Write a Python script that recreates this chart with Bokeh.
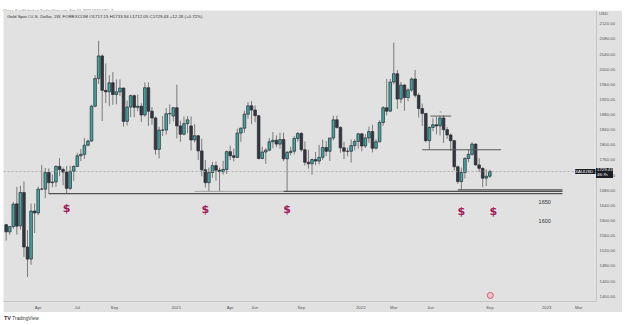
import pandas as pd
from bokeh.plotting import figure
from bokeh.models import ColumnDataSource, FixedTicker, Range1d, Label, Div, Span, PrintfTickFormatter
from bokeh.layouts import column
from bokeh.embed import file_html
from bokeh.resources import INLINE
from bokeh.core.properties import value

# ---------------- data (weekly XAUUSD candles) ----------------
first_week = "2020-02-03"
opens = [
    1589, 1570, 1584, 1644, 1586, 1674, 1530, 1498, 1625, 1620, 1683, 1683,
    1727, 1700, 1702, 1743, 1735, 1728, 1685, 1730, 1743, 1771, 1775, 1799,
    1810, 1902, 1975, 2035, 1944, 1940, 1964, 1933, 1940, 1950, 1862, 1900,
    1930, 1899, 1902, 1879, 1951, 1889, 1871, 1788, 1839, 1839, 1882, 1876,
    1898, 1850, 1828, 1856, 1850, 1813, 1824, 1784, 1734, 1700, 1727, 1745,
    1733, 1729, 1735, 1782, 1771, 1767, 1831, 1844, 1881, 1903, 1892, 1877,
    1764, 1781, 1786, 1808, 1812, 1802, 1814, 1763, 1780, 1783, 1817, 1830,
    1787, 1754, 1750, 1761, 1757, 1767, 1793, 1783, 1818, 1866, 1846, 1792,
    1783, 1783, 1798, 1809,
    1829, 1797, 1818, 1835, 1791, 1808, 1859, 1898, 1889, 1966, 1988, 1921,
    1958, 1925, 1945, 1974, 1931, 1896, 1883, 1811, 1846, 1853, 1850, 1871,
    1840, 1826, 1811, 1742, 1703, 1727, 1764, 1775, 1802, 1747, 1738, 1712,
    1717.15,
]
highs = [
    1591, 1585, 1649, 1689, 1692, 1703, 1575, 1645, 1645, 1690, 1747, 1739,
    1738, 1722, 1746, 1765, 1740, 1744, 1745, 1746, 1779, 1789, 1818, 1814,
    1906, 1984, 2075, 2039, 2015, 1984, 1992, 1973, 1973, 1951, 1917, 1933,
    1933, 1933, 1910, 1965, 1965, 1900, 1875, 1848, 1876, 1897, 1907, 1900,
    1959, 1864, 1875, 1876, 1875, 1855, 1826, 1816, 1760, 1740, 1755, 1756,
    1740, 1758, 1785, 1798, 1790, 1843, 1846, 1890, 1913, 1916, 1904, 1879,
    1795, 1791, 1818, 1834, 1825, 1832, 1832, 1784, 1795, 1823, 1834, 1834,
    1809, 1787, 1764, 1781, 1800, 1814, 1810, 1818, 1877, 1877, 1849, 1808,
    1793, 1814, 1815, 1831,
    1831, 1828, 1848, 1853, 1815, 1865, 1902, 1974, 1974, 2070, 1998, 1966,
    1960, 1949, 1978, 1998, 1937, 1909, 1884, 1849, 1870, 1874, 1876, 1879,
    1847, 1830, 1813, 1745, 1740, 1767, 1788, 1807, 1803, 1765, 1740, 1735,
    1733.94,
]
lows = [
    1547, 1562, 1578, 1563, 1576, 1504, 1451, 1483, 1567, 1614, 1680, 1659,
    1670, 1688, 1689, 1717, 1693, 1670, 1680, 1705, 1741, 1757, 1763, 1796,
    1808, 1899, 1961, 1863, 1910, 1902, 1906, 1907, 1929, 1848, 1851, 1873,
    1873, 1889, 1860, 1874, 1850, 1853, 1774, 1764, 1823, 1827, 1855, 1862,
    1817, 1808, 1825, 1831, 1785, 1806, 1760, 1717, 1687, 1677, 1713, 1705,
    1677, 1721, 1723, 1760, 1756, 1765, 1808, 1832, 1869, 1855, 1860, 1761,
    1762, 1750, 1783, 1791, 1794, 1790, 1757, 1678, 1772, 1775, 1808, 1782,
    1745, 1737, 1721, 1746, 1748, 1760, 1770, 1758, 1812, 1843, 1779, 1762,
    1770, 1753, 1785, 1790,
    1783, 1792, 1805, 1780, 1788, 1807, 1850, 1878, 1889, 1960, 1895, 1910,
    1890, 1915, 1940, 1925, 1872, 1850, 1807, 1787, 1836, 1828, 1825, 1805,
    1816, 1784, 1732, 1697, 1680, 1711, 1754, 1771, 1745, 1728, 1688, 1691,
    1712.05,
]
closes = [
    1570, 1584, 1643, 1585, 1674, 1530, 1498, 1625, 1620, 1683, 1683, 1727,
    1700, 1702, 1743, 1735, 1728, 1685, 1730, 1743, 1771, 1775, 1799, 1810,
    1902, 1975, 2035, 1944, 1940, 1964, 1933, 1940, 1950, 1862, 1900, 1930,
    1899, 1902, 1879, 1951, 1889, 1871, 1788, 1839, 1839, 1882, 1883, 1898,
    1850, 1828, 1856, 1866, 1813, 1824, 1784, 1734, 1700, 1727, 1745, 1733,
    1729, 1735, 1782, 1771, 1767, 1831, 1844, 1881, 1903, 1892, 1877, 1764,
    1781, 1786, 1808, 1812, 1802, 1814, 1763, 1780, 1783, 1817, 1830, 1787,
    1754, 1750, 1761, 1757, 1767, 1793, 1783, 1818, 1866, 1846, 1792, 1783,
    1783, 1798, 1809, 1829,
    1797, 1818, 1835, 1791, 1808, 1859, 1898, 1889, 1966, 1988, 1921, 1958,
    1925, 1945, 1974, 1931, 1896, 1883, 1811, 1846, 1853, 1850, 1871, 1840,
    1826, 1811, 1742, 1703, 1727, 1764, 1775, 1802, 1747, 1738, 1712, 1717,
    1729.43,
]
last_price = 1729.43

# time-scale labels, placed where they appear in the picture
tick_dates = ["2020-04-06", "2020-06-22", "2020-09-03", "2021-01-03", "2021-04-19",
              "2021-06-06", "2021-09-06", "2022-01-01", "2022-03-07", "2022-05-18",
              "2022-09-12", "2023-01-02", "2023-03-06"]
tick_labels = ["Apr", "Jul", "Sep", "2021", "Apr", "Jun", "Sep", "2022", "Mar",
               "Jun", "Sep", "2023", "Mar"]
price_ticks = [1400, 1440, 1480, 1520, 1560, 1600, 1640, 1680, 1720, 1760, 1800,
               1840, 1880, 1920, 1960, 2000, 2040, 2080, 2120]

# drawn support lines
support_price = [1671, 1677, 1681]
support_start = ["2020-04-27", "2021-08-02", "2022-07-11"]
support_end = ["2023-02-02", "2023-02-02", "2023-02-02"]
faint_price = [1677]
faint_start = ["2021-02-08"]
faint_end = ["2021-08-02"]
range_price = [1787, 1876]
range_start = ["2022-05-02", "2022-05-18"]
range_end = ["2022-10-04", "2022-06-28"]
mark_date = ["2022-06-07"]
mark_price = [1889]
mark_text = ["x"]

dollar_dates = ["2020-06-01", "2021-03-01", "2021-08-09", "2022-07-18", "2022-09-19"]
dollar_price = [1631, 1629, 1629, 1624, 1624]
level_text_date = ["2022-12-17", "2022-12-17"]
level_text_price = [1650, 1600]
level_text = ["1650", "1600"]
icon_date = ["2022-09-13"]
icon_price = [1402]

header_text = "Gold Spot / U.S. Dollar, 1W, FOREXCOM  O1717.15 H1733.94 L1712.05 C1729.43 +12.28 (+0.72%)"
publish_text = "Chriss_K published on TradingView.com, Sep 12, 2022 17:51 UTC+3"
price_tag = ["1729.43", "46:7h"]


def ms(d):
    return int(pd.Timestamp(d).value // 10**6)


week_dates = pd.date_range(first_week, periods=len(closes), freq="7D")
xs = [ms(d) for d in week_dates]

BG = "#e1e1e1"
UP = "#3fa8a3"
DOWN = "#33373f"
FONT = "Liberation Sans"

src = ColumnDataSource(dict(
    x=xs,
    high=highs,
    low=lows,
    top=[max(o, c) for o, c in zip(opens, closes)],
    bottom=[min(o, c) for o, c in zip(opens, closes)],
    fill=[UP if c >= o else DOWN for o, c in zip(opens, closes)],
))

p = figure(width=619, height=302,
           x_range=Range1d(ms("2020-01-28 18:00"), ms("2023-04-10")),
           y_range=Range1d(1386, 2155),
           y_axis_location="right",
           output_backend="svg", toolbar_location=None,
           min_border_left=0, min_border_right=26, min_border_top=0, min_border_bottom=11,
           background_fill_color=BG, border_fill_color=BG, outline_line_color=None,
           margin=(0, 3, 0, 3))
p.xgrid.visible = False
p.ygrid.visible = False

# current price dotted line
p.add_layout(Span(location=last_price, dimension="width", line_color="#a2a2a2",
                  line_dash="2 2", line_width=0.8))

# candles
p.segment("x", "high", "x", "low", source=src, line_color="#7a7a7a", line_width=1)
p.vbar(x="x", width=5.2 * 86400000, top="top", bottom="bottom", fill_color="fill",
       line_color="#262a31", line_width=0.7, source=src)

# drawings
p.segment(x0=[ms(d) for d in faint_start], y0=faint_price, x1=[ms(d) for d in faint_end],
          y1=faint_price, line_color="#a3a3a3", line_width=1)
p.segment(x0=[ms(d) for d in support_start], y0=support_price, x1=[ms(d) for d in support_end],
          y1=support_price, line_color="#4f4f4f", line_width=1.4)
p.segment(x0=[ms(d) for d in range_start], y0=range_price, x1=[ms(d) for d in range_end],
          y1=range_price, line_color="#5a5a5a", line_width=1)
p.text(x=[ms(d) for d in mark_date], y=mark_price, text=mark_text, text_font=value(FONT),
       text_font_size="4px", text_color="#8a8a8a", text_align="center", text_baseline="middle")
p.text(x=[ms(d) for d in dollar_dates], y=dollar_price, text=["$"] * len(dollar_dates),
       text_font=value("DejaVu Sans"), text_font_style="bold", text_font_size="11px",
       text_color="#a11a5b", text_align="center", text_baseline="middle")
p.text(x=[ms(d) for d in level_text_date], y=level_text_price, text=level_text,
       text_font=value(FONT), text_font_size="5.5px", text_color="#333333",
       text_align="left", text_baseline="middle")
p.scatter(x=[ms(d) for d in icon_date], y=icon_price, size=6, fill_color="#f0c4cc",
          line_color="#c9425b", line_width=0.8)

# axes
xa = p.xaxis[0]
xa.ticker = FixedTicker(ticks=[ms(d) for d in tick_dates])
xa.major_label_overrides = {ms(d): lab for d, lab in zip(tick_dates, tick_labels)}
ya = p.yaxis[0]
ya.ticker = FixedTicker(ticks=price_ticks)
ya.formatter = PrintfTickFormatter(format="%.2f")
for ax in (xa, ya):
    ax.major_tick_line_color = None
    ax.minor_tick_line_color = None
    ax.major_tick_in = 0
    ax.major_tick_out = 0
    ax.major_label_standoff = 3
    ax.major_label_text_font = FONT
    ax.major_label_text_font_size = "4.3px"
    ax.major_label_text_color = "#555555"
    ax.axis_line_color = "#c6c6c6"
    ax.axis_line_width = 1

# header / symbol labels inside the chart frame
p.add_layout(Label(x=ms("2020-02-05"), y=2139, text=header_text, text_font=FONT,
                   text_font_size="4.4px", text_color="#333333", text_baseline="middle"))
p.add_layout(Label(x=ms("2023-04-08"), y=last_price, text=" XAUUSD ", text_font=FONT,
                   text_font_size="4.3px", text_color="white", text_baseline="middle",
                   text_align="right", background_fill_color="#1c1f26"))

header = Div(width=625, height=10, margin=(0, 0, 0, 0),
             text=f"<div style='font-family:Liberation Sans;font-size:3.6px;color:#666;"
                  f"padding:2px 0 0 3px;white-space:nowrap;line-height:1'>{publish_text}</div>")

# footer also carries the price-scale tags (USD, last price) drawn over the scale column
footer_html = (
    "<div style='position:relative;width:625px;height:13px;font-family:Liberation Sans;'>"
    "<div style='position:absolute;left:4px;top:4px;font-size:4.8px;color:#333;"
    "white-space:nowrap;line-height:1'><b style='font-size:5.5px'>TV</b> TradingView</div>"
    "<div style='position:absolute;left:599px;top:-300px;font-size:4.3px;color:#555;"
    "line-height:1;white-space:nowrap'>USD</div>"
    "<div style='position:absolute;left:596px;top:-144px;width:17px;height:10px;"
    "background:#1c1f26;color:#fff;font-size:4.3px;line-height:4.8px;padding-left:1px;"
    "box-sizing:border-box;white-space:nowrap'>"
    f"{price_tag[0]}<br>{price_tag[1]}</div>"
    "</div>"
)
footer = Div(width=625, height=13, margin=(0, 0, 0, 0), text=footer_html)

layout = column(header, p, footer, spacing=0)
open("out.html", "w").write(file_html(layout, INLINE))
